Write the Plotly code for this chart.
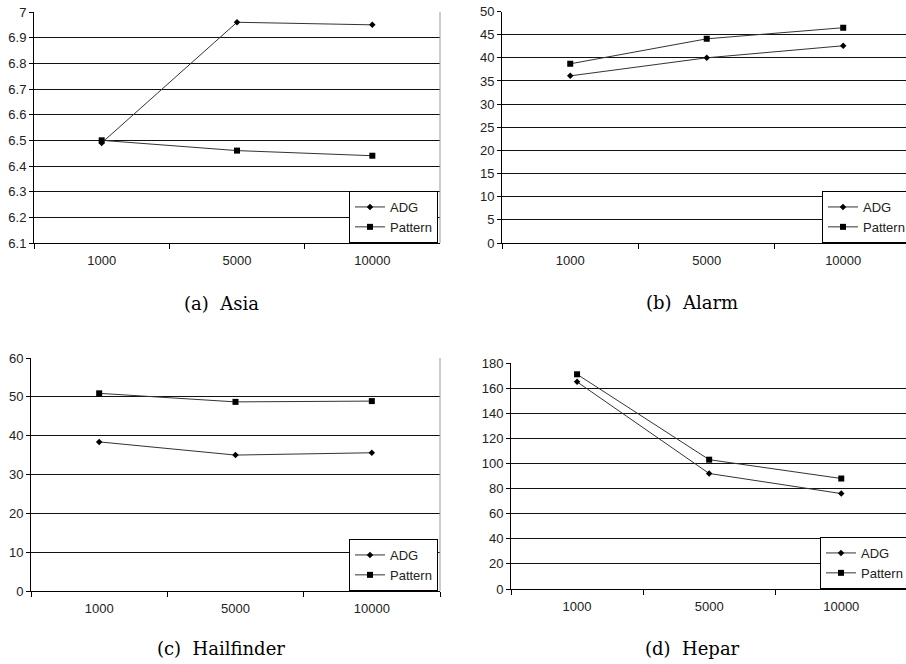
import plotly.graph_objects as go

W, H = 906, 664

categories = ["1000", "5000", "10000"]

asia_adg = [6.49, 6.96, 6.95]
asia_pattern = [6.50, 6.46, 6.44]
alarm_adg = [36.1, 40.0, 42.6]
alarm_pattern = [38.7, 44.1, 46.5]
hail_adg = [38.4, 35.0, 35.6]
hail_pattern = [50.9, 48.7, 48.9]
hepar_adg = [165, 92, 76]
hepar_pattern = [171, 103, 88]

asia_ticks = [6.1, 6.2, 6.3, 6.4, 6.5, 6.6, 6.7, 6.8, 6.9, 7.0]
asia_ticktext = ["6.1", "6.2", "6.3", "6.4", "6.5", "6.6", "6.7", "6.8", "6.9", "7"]
alarm_ticks = [0, 5, 10, 15, 20, 25, 30, 35, 40, 45, 50]
hail_ticks = [0, 10, 20, 30, 40, 50, 60]
hepar_ticks = [0, 20, 40, 60, 80, 100, 120, 140, 160, 180]

captions = ["(a)\u00a0 Asia", "(b)\u00a0 Alarm", "(c)\u00a0 Hailfinder", "(d)\u00a0 Hepar"]

# panel geometry in pixels: left, right, top, bottom, x-range end, legend anchor
panels = [
    dict(l=34, r=440, t=12, b=243, xend=2.5, yr=[6.1, 7.0], tv=asia_ticks, tt=asia_ticktext,
         adg=asia_adg, pat=asia_pattern, cap=(221, 303), border=True, lgx=438, lga="right"),
    dict(l=502, r=906, t=11.5, b=243, xend=2.46, yr=[0, 50], tv=alarm_ticks, tt=[str(v) for v in alarm_ticks],
         adg=alarm_adg, pat=alarm_pattern, cap=(692, 302), border=False, lgx=822, lga="left"),
    dict(l=31, r=440, t=358, b=591, xend=2.5, yr=[0, 60], tv=hail_ticks, tt=[str(v) for v in hail_ticks],
         adg=hail_adg, pat=hail_pattern, cap=(221, 648), border=True, lgx=438, lga="right"),
    dict(l=511, r=906, t=363, b=589, xend=2.49, yr=[0, 180], tv=hepar_ticks, tt=[str(v) for v in hepar_ticks],
         adg=hepar_adg, pat=hepar_pattern, cap=(692, 648), border=False, lgx=820, lga="left"),
]

SANS = "Liberation Sans"
tickfont = dict(family=SANS, size=13, color="#222")

fig = go.Figure()
layout = dict(
    template="none",
    width=W, height=H, margin=dict(l=0, r=0, t=0, b=0, autoexpand=False),
    paper_bgcolor="white", plot_bgcolor="white",
    font=tickfont, shapes=[], annotations=[],
)

for i, p in enumerate(panels):
    n = "" if i == 0 else str(i + 1)
    xa, ya = "x" + n, "y" + n
    lg = "legend" + n
    fig.add_trace(go.Scatter(
        x=categories, y=p["adg"], name="ADG", mode="lines+markers",
        line=dict(color="#333", width=1), marker=dict(symbol="diamond", size=5, color="black"),
        xaxis=xa, yaxis=ya, legend=lg))
    fig.add_trace(go.Scatter(
        x=categories, y=p["pat"], name="Pattern", mode="lines+markers",
        line=dict(color="#333", width=1), marker=dict(symbol="square", size=6, color="black"),
        xaxis=xa, yaxis=ya, legend=lg))

    layout["xaxis" + n] = dict(
        domain=[p["l"] / W, p["r"] / W], anchor=ya, type="category", automargin=False,
        range=[-0.5, p["xend"]], tickson="boundaries", ticks="outside", ticklen=5,
        tickcolor="black", showline=True, linecolor="black", linewidth=1,
        showgrid=False, zeroline=False, tickfont=tickfont, ticklabelstandoff=5,
        fixedrange=True)
    layout["yaxis" + n] = dict(
        domain=[1 - p["b"] / H, 1 - p["t"] / H], anchor=xa, range=p["yr"], automargin=False,
        tickvals=p["tv"], ticktext=p["tt"], ticks="outside", ticklen=4,
        tickcolor="black", showline=True, linecolor="black", linewidth=1,
        showgrid=True, gridcolor="#111", gridwidth=1, zeroline=False,
        tickfont=tickfont, fixedrange=True)
    layout[lg] = dict(
        x=p["lgx"] / W, xanchor=p["lga"],
        y=1 - p["b"] / H, yanchor="bottom", xref="paper", yref="paper",
        bgcolor="white", bordercolor="black", borderwidth=1,
        font=dict(family=SANS, size=13, color="#222"),
        itemwidth=30, tracegroupgap=0)
    if p["border"]:
        layout["shapes"].append(dict(
            type="line", xref="paper", yref="paper",
            x0=p["r"] / W, x1=p["r"] / W, y0=1 - p["b"] / H, y1=1 - p["t"] / H,
            line=dict(color="#999", width=1)))
    layout["annotations"].append(dict(
        text=captions[i], x=p["cap"][0] / W, y=1 - p["cap"][1] / H,
        xref="paper", yref="paper", xanchor="center", yanchor="middle",
        showarrow=False, font=dict(family="DejaVu Serif", size=18, color="black")))

fig.update_layout(**layout)
fig.write_html("out.html", config={"displayModeBar": False},
               post_script="document.body.style.margin='0';document.body.style.overflow='hidden';")
